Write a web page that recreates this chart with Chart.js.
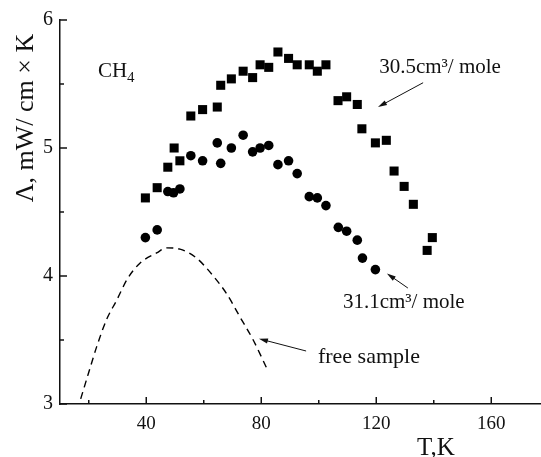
<!DOCTYPE html>
<html>
<head>
<meta charset="utf-8">
<script src="https://cdn.jsdelivr.net/npm/chart.js@4.4.0/dist/chart.umd.min.js"></script>
<style>
  html, body { margin: 0; padding: 0; background: #fff; }
</style>
</head>
<body>
<canvas id="chart" width="541" height="457"></canvas>
<script>
// data (T in K, conductivity in mW/cm*K)
const sqT = [39.7, 43.8, 47.5, 49.7, 51.7, 55.5, 59.6, 64.7, 65.9, 69.6, 73.7, 77.0, 79.6, 82.6, 85.8, 89.5,
             92.5, 96.7, 99.5, 102.5, 106.7, 109.7, 113.4, 115.0, 119.7, 123.5, 126.2, 129.7, 132.9, 137.7, 139.5];
const sqVal = [4.61, 4.69, 4.85, 5.00, 4.90, 5.25, 5.30, 5.32, 5.49, 5.54, 5.60, 5.55, 5.65, 5.63, 5.75, 5.70,
               5.65, 5.65, 5.60, 5.65, 5.37, 5.40, 5.34, 5.15, 5.04, 5.06, 4.82, 4.70, 4.56, 4.20, 4.30];

const ciT = [39.7, 43.8, 47.5, 49.5, 51.7, 55.5, 59.6, 64.7, 65.9, 69.6, 73.7, 77.0, 79.6, 82.6, 85.8, 89.5,
             92.5, 96.7, 99.5, 102.5, 106.8, 109.7, 113.4, 115.2, 119.7];
const ciVal = [4.30, 4.36, 4.66, 4.65, 4.68, 4.94, 4.90, 5.04, 4.88, 5.00, 5.10, 4.97, 5.00, 5.02, 4.87, 4.90,
               4.80, 4.62, 4.61, 4.55, 4.38, 4.35, 4.28, 4.14, 4.05];

const freeT = [17.2, 19.9, 22.8, 26.2, 29.7, 33.5, 37.8, 43.6, 47.1, 51.7, 57.5, 63.3, 68.0, 72.6, 77.2, 81.9];
const freeVal = [3.04, 3.24, 3.45, 3.66, 3.81, 3.98, 4.10, 4.18, 4.22, 4.21, 4.14, 4.00, 3.86, 3.68, 3.50, 3.28];

const xTicks = [20, 40, 60, 80, 100, 120, 140, 160];
const yTicks = [3, 3.5, 4, 4.5, 5, 5.5, 6];

const FONT = '"Liberation Serif", "DejaVu Serif", serif';
const INK = '#111';

// annotation texts and arrows, in data units
const notes = [
  {text: '30.5cm³/ mole', x: 121.0, y: 5.586, size: 21},
  {text: '31.1cm³/ mole', x: 108.4, y: 3.75, size: 21},
  {text: 'free sample', x: 99.7, y: 3.32, size: 22}
];
const arrows = [
  {from: [136.3, 5.51], to: [120.6, 5.32]},
  {from: [131.0, 3.906], to: [123.7, 4.02]},
  {from: [95.6, 3.414], to: [79.2, 3.51]}
];

const toXY = (ts, vs) => ts.map((t, i) => ({x: t, y: vs[i]}));

function line(ctx, x1, y1, x2, y2) {
  ctx.beginPath(); ctx.moveTo(x1, y1); ctx.lineTo(x2, y2); ctx.stroke();
}

const decor = {
  id: 'decor',
  afterDraw(chart) {
    const {ctx, chartArea: a} = chart;
    const x = chart.scales.x, y = chart.scales.y;
    ctx.save();
    ctx.strokeStyle = INK;
    ctx.lineWidth = 1.5;
    // inward tick marks
    xTicks.forEach(v => {
      const px = x.getPixelForValue(v);
      line(ctx, px, a.bottom, px, a.bottom - (v % 40 === 0 ? 7 : 4));
    });
    yTicks.forEach(v => {
      const py = y.getPixelForValue(v);
      line(ctx, a.left, py, a.left + (v % 1 === 0 ? 7 : 4), py);
    });

    // arrows
    ctx.lineWidth = 1;
    ctx.fillStyle = INK;
    arrows.forEach(ar => {
      const x1 = x.getPixelForValue(ar.from[0]), y1 = y.getPixelForValue(ar.from[1]);
      const x2 = x.getPixelForValue(ar.to[0]), y2 = y.getPixelForValue(ar.to[1]);
      const ang = Math.atan2(y2 - y1, x2 - x1);
      line(ctx, x1, y1, x2 - 6 * Math.cos(ang), y2 - 6 * Math.sin(ang));
      ctx.beginPath();
      ctx.moveTo(x2, y2);
      ctx.lineTo(x2 - 9 * Math.cos(ang) + 2.6 * Math.sin(ang), y2 - 9 * Math.sin(ang) - 2.6 * Math.cos(ang));
      ctx.lineTo(x2 - 9 * Math.cos(ang) - 2.6 * Math.sin(ang), y2 - 9 * Math.sin(ang) + 2.6 * Math.cos(ang));
      ctx.closePath();
      ctx.fill();
    });

    // labels
    ctx.textBaseline = 'alphabetic';
    ctx.textAlign = 'left';
    notes.forEach(n => {
      ctx.font = n.size + 'px ' + FONT;
      ctx.fillText(n.text, x.getPixelForValue(n.x), y.getPixelForValue(n.y));
    });

    ctx.font = '21px ' + FONT;
    const cx = x.getPixelForValue(23.2), cy = y.getPixelForValue(5.555);
    ctx.fillText('CH', cx, cy);
    const w = ctx.measureText('CH').width;
    ctx.font = '15px ' + FONT;
    ctx.fillText('4', cx + w, cy + 5);

    // axis titles
    ctx.font = '25px ' + FONT;
    ctx.fillText('T,K', 417, 455);
    ctx.save();
    ctx.translate(33, 118);
    ctx.rotate(-Math.PI / 2);
    ctx.textAlign = 'center';
    ctx.font = '26px ' + FONT;
    ctx.fillText('Λ, mW/ cm × K', 0, 0);
    ctx.restore();
    ctx.restore();
  }
};

new Chart(document.getElementById('chart'), {
  type: 'scatter',
  data: {
    datasets: [
      {
        data: toXY(sqT, sqVal),
        pointStyle: 'rect',
        pointRadius: 6.4,
        backgroundColor: '#000',
        borderWidth: 0
      },
      {
        data: toXY(ciT, ciVal),
        pointStyle: 'circle',
        pointRadius: 4.8,
        backgroundColor: '#000',
        borderWidth: 0
      },
      {
        data: toXY(freeT, freeVal),
        showLine: true,
        pointRadius: 0,
        borderColor: '#000',
        borderWidth: 1.4,
        borderDash: [7, 5],
        tension: 0.4,
        cubicInterpolationMode: 'monotone'
      }
    ]
  },
  options: {
    responsive: false,
    animation: false,
    events: [],
    layout: {autoPadding: false, padding: {top: 20, right: 0, left: 0, bottom: 0}},
    plugins: {legend: {display: false}, tooltip: {enabled: false}},
    scales: {
      x: {
        type: 'linear',
        min: 10,
        max: 177.3,
        afterBuildTicks: s => { s.ticks = xTicks.map(v => ({value: v})); },
        afterFit: s => { s.height = 53; s.paddingLeft = 0; s.paddingRight = 0; },
        grid: {display: false, drawTicks: false},
        border: {display: true, color: INK, width: 1.5},
        ticks: {
          color: INK,
          font: {family: FONT, size: 19},
          padding: 9,
          maxRotation: 0,
          autoSkip: false,
          callback: v => (v % 40 === 0 ? String(v) : '')
        }
      },
      y: {
        min: 3,
        max: 6,
        afterBuildTicks: s => { s.ticks = yTicks.map(v => ({value: v})); },
        afterFit: s => { s.width = 60; },
        grid: {display: false, drawTicks: false},
        border: {display: true, color: INK, width: 1.5},
        ticks: {
          color: INK,
          font: {family: FONT, size: 20},
          padding: 7,
          autoSkip: false,
          callback: v => (v % 1 === 0 ? String(v) : '')
        }
      }
    }
  },
  plugins: [decor]
});
</script>
</body>
</html>
